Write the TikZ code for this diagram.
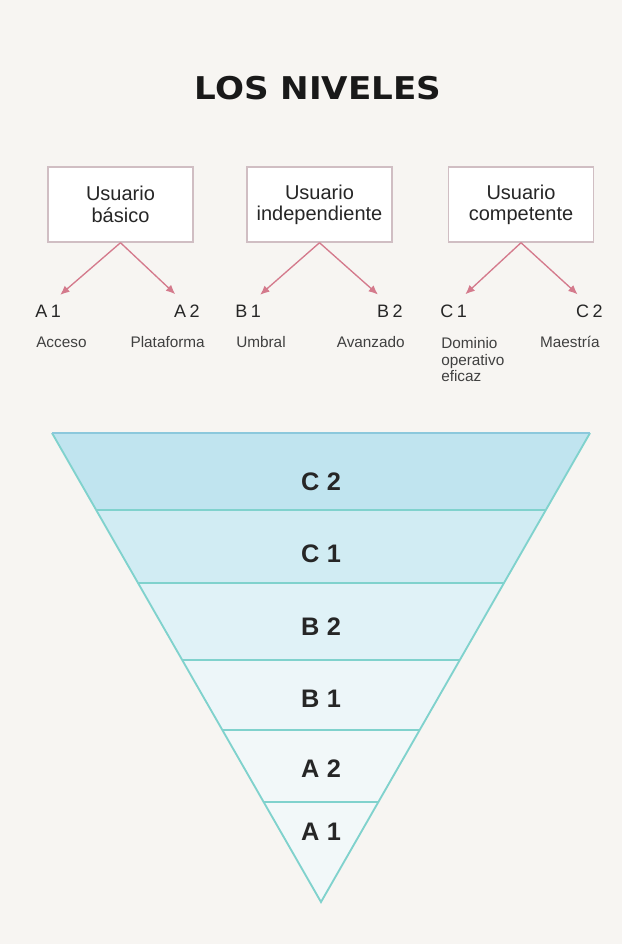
\documentclass[tikz,border=0pt]{standalone}
\usepackage{graphicx}
\usepackage{fontspec}
\setmainfont{Liberation Sans}
\newfontfamily\titulofont{DejaVu Sans}
\usetikzlibrary{arrows.meta,calc}

\definecolor{fondo}{RGB}{247,245,242}
\definecolor{borde}{RGB}{208,190,195}
\definecolor{rosa}{RGB}{212,122,140}
\definecolor{turquesa}{RGB}{128,210,205}
\definecolor{azulborde}{RGB}{140,200,220}
\definecolor{azulC2}{RGB}{192,228,239}
\definecolor{azulC1}{RGB}{209,236,243}
\definecolor{azulB2}{RGB}{224,242,247}
\definecolor{azulB1}{RGB}{237,246,249}
\definecolor{azulA}{RGB}{242,248,249}

\tikzset{
	usuario/.style={draw=borde, line width=1.1pt, fill=white, minimum width=108.75pt, minimum height=56.25pt, align=center, inner sep=0pt, text=black!85, font=\fontsize{15}{16}\selectfont},
	nivel/.style={inner sep=0pt, text=black!85, font=\fontsize{13.5}{14}\selectfont},
	descr/.style={inner sep=0pt, text=black!75, align=left, font=\fontsize{11.5}{12.5}\selectfont},
	flecha/.style={draw=rosa, line width=1pt, -{Latex[length=7pt,width=6pt]}, shorten >=12pt},
	banda/.style={inner sep=0pt, text=black!85, font=\fontsize{19}{19}\selectfont\bfseries},
	linea/.style={draw=turquesa, line width=1.4pt}
}

\begin{document}
\begin{tikzpicture}[x=0.75pt,y=-0.75pt]
	\fill[fondo] (0,0) rectangle (622,944);
	
	\node[anchor=base, text=black!90, font=\titulofont\fontsize{23.5}{24}\selectfont\bfseries] (titulo) at (318,100) {\scalebox{1.09}[1]{LOS NIVELES}};
	
	% los tres usuarios
	\node[usuario] (basico) at (120.5,204.5) {Usuario\\básico};
	\node[usuario] (indep) at (319.5,204.5) {Usuario\\independiente};
	\node[usuario] (compet) at (521,204.5) {Usuario\\competente};
	
	% niveles
	\node[nivel, anchor=base west] (a1) at (35,318) {A\kern.2em1};
	\node[nivel, anchor=base east] (a2) at (200,318) {A\kern.2em2};
	\node[nivel, anchor=base west] (b1) at (235,318) {B\kern.2em1};
	\node[nivel, anchor=base east] (b2) at (403,318) {B\kern.2em2};
	\node[nivel, anchor=base west] (c1) at (440,318) {C\kern.2em1};
	\node[nivel, anchor=base east] (c2) at (603,318) {C\kern.2em2};
	
	\node[descr, anchor=base west] (acceso) at (36,348) {Acceso};
	\node[descr, anchor=base east] (plataforma) at (205,348) {Plataforma};
	\node[descr, anchor=base west] (umbral) at (236,348) {Umbral};
	\node[descr, anchor=base east] (avanzado) at (405,348) {Avanzado};
	\node[descr, anchor=north west] (dominio) at (441,337) {Dominio\\operativo\\eficaz};
	\node[descr, anchor=base east] (maestria) at (600,348) {Maestría};
	
	\draw[flecha] (basico.south) -- (a1.north);
	\draw[flecha] (basico.south) -- (a2.north);
	\draw[flecha] (indep.south) -- (b1.north);
	\draw[flecha] (indep.south) -- (b2.north);
	\draw[flecha] (compet.south) -- (c1.north);
	\draw[flecha] (compet.south) -- (c2.north);
	
	% triangulo
	\coordinate (izq) at (52,433);
	\coordinate (der) at (590,433);
	\coordinate (pico) at (321,902);
	\foreach \ta/\tb/\col in {0/0.164/azulC2, 0.164/0.320/azulC1, 0.320/0.484/azulB2, 0.484/0.633/azulB1, 0.633/0.787/azulA, 0.787/1/azulA}
		\fill[\col] ($(izq)!\ta!(pico)$) -- ($(der)!\ta!(pico)$) -- ($(der)!\tb!(pico)$) -- ($(izq)!\tb!(pico)$) -- cycle;
	\foreach \t in {0.164,0.320,0.484,0.633,0.787}
		\draw[linea] ($(izq)!\t!(pico)$) -- ($(der)!\t!(pico)$);
	\draw[linea] (der) -- (pico) -- (izq);
	\draw[linea, draw=azulborde] (izq) -- (der);
	
	\node[banda, anchor=base] (nc2) at (321,490) {C\kern.3em2};
	\node[banda, anchor=base] (nc1) at (321,562) {C\kern.3em1};
	\node[banda, anchor=base] (nb2) at (321,635) {B\kern.3em2};
	\node[banda, anchor=base] (nb1) at (321,707) {B\kern.3em1};
	\node[banda, anchor=base] (na2) at (321,777) {A\kern.3em2};
	\node[banda, anchor=base] (na1) at (321,840) {A\kern.3em1};
\end{tikzpicture}
\end{document}
